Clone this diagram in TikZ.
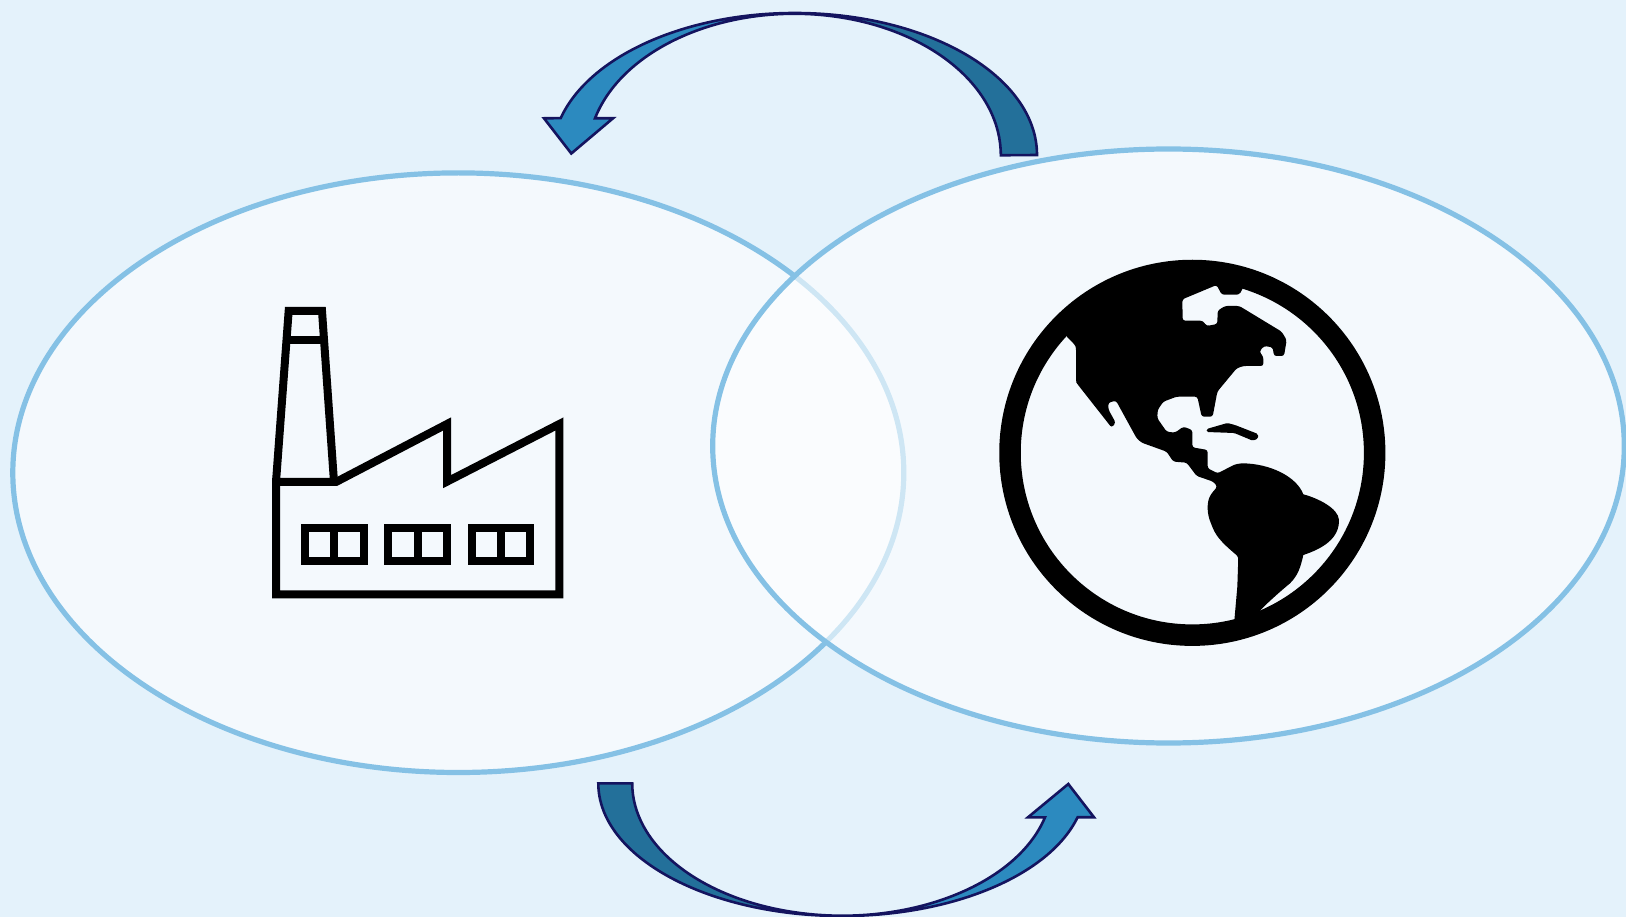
\documentclass[tikz,border=0pt]{standalone}
\definecolor{bgblue}{HTML}{E4F2FB}
\definecolor{ringblue}{HTML}{85C1E5}
\definecolor{arrowlight}{HTML}{2C8ABF}
\definecolor{arrowdark}{HTML}{23709A}
\definecolor{arrownavy}{HTML}{14145F}
\tikzset{
  vennoval/.style={draw=ringblue,line width=5.2pt,fill=white,fill opacity=.6},
  arrowline/.style={draw=arrownavy,line width=2.6pt,miter limit=10},
  iconline/.style={draw=black,line width=8pt,miter limit=10},
  iconfill/.style={fill=black,rounded corners=2.5pt},
  zoomed/.style={x=0.33333pt,y=-0.33333pt}
}
\newcommand{\toparrowpath}{(1037,155) arc[start angle=0,end angle=-164.95,x radius=242.3,y radius=142]
  -- (544,118.3) -- (571.3,153.5) -- (613,118.3) -- (595,118.3)
  arc[start angle=-164.85,end angle=0,x radius=206.5,y radius=141.5] -- cycle}
\newcommand{\botarrowpath}{(598.3,783.3) arc[start angle=180,end angle=14.8,x radius=243.7,y radius=132.7]
  -- (1094,817.3) -- (1068.3,784) -- (1028,817.3) -- (1045,817.3)
  arc[start angle=14.85,end angle=180,x radius=209.9,y radius=132.3] -- cycle}
\begin{document}
\begin{tikzpicture}[x=1pt,y=-1pt]
\useasboundingbox (0,0) rectangle (1626,917);
\fill[bgblue] (0,0) rectangle (1626,917);
% ovals
\path[vennoval] (458.3,472.7) ellipse [x radius=445.5,y radius=299.8];
\path[vennoval] (1168.5,446) ellipse [x radius=455.8,y radius=297];
% top arrow
\fill[arrowlight] \toparrowpath;
\begin{scope}
  \clip (795,0) rectangle (1100,200);
  \fill[arrowdark] \toparrowpath;
\end{scope}
\path[arrowline] \toparrowpath;
% bottom arrow
\fill[arrowlight] \botarrowpath;
\begin{scope}
  \clip (500,760) rectangle (842,917);
  \fill[arrowdark] \botarrowpath;
\end{scope}
\path[arrowline] \botarrowpath;
% factory
\begin{scope}[shift={(260,295)},zoomed]
  \path[iconline] (48,898) -- (898,898) -- (898,387) -- (561,560) -- (561,387) -- (228,561) -- (48,561) -- cycle;
  \path[iconline] (48,561) -- (86,48) -- (186,48) -- (222,561);
  \path[iconline] (80,135) -- (192,135);
  \path[iconline] (135,698) rectangle (311,798);
  \path[iconline] (223,698) -- (223,798);
  \path[iconline] (385,698) rectangle (561,798);
  \path[iconline] (473,698) -- (473,798);
  \path[iconline] (635,698) rectangle (811,798);
  \path[iconline] (723,698) -- (723,798);
\end{scope}
% globe
\begin{scope}[shift={(990,250)},zoomed]
  \draw[black,line width=21.5pt] (607,608.5) circle [radius=547];
  \path[iconfill] (226,256) -- (255,285) -- (258,292) -- (258,395) -- (262,402) -- (365,533)
    -- (377,518) -- (355,478) -- (355,458) -- (378,452) -- (440,565) -- (455,578) -- (530,605)
    -- (550,635) -- (590,638) -- (620,678) -- (670,695) -- (682,710) -- (665,730)
    .. controls (650,755) and (650,790) .. (665,825)
    .. controls (680,865) and (710,890) .. (745,920)
    [sharp corners] -- (742,1010) -- (733,1112) -- (770,1125) -- (800,1092)
    .. controls (830,1060) and (870,1025) .. (900,1000)
    .. controls (925,975) and (932,950) .. (940,915)
    .. controls (1000,895) and (1048,865) .. (1047,810)
    .. controls (1045,775) and (985,745) .. (940,733)
    .. controls (920,680) and (840,640) .. (755,640)
    [rounded corners=2.5pt] -- (735,643) -- (683,670) -- (653,655) -- (653,600) -- (607,592) -- (607,540) -- (580,530)
    -- (555,548) -- (530,545) -- (502,505) -- (503,480) -- (520,455) -- (560,440) -- (622,440)
    -- (635,500) -- (668,500) -- (682,425) -- (740,355) -- (760,348) -- (820,348)
    -- (820,320) -- (808,305) -- (822,288) -- (848,292) -- (852,318) -- (882,318)
    -- (890,270) -- (875,245) -- (748,168) -- (705,168) -- (683,182) -- (682,222)
    -- (650,228) -- (638,212) -- (578,212) -- (577,148) -- (680,105) -- (695,134)
    -- (748,134) -- (760,112) -- (760,80) -- (607,60) -- (400,100) -- (280,170) -- cycle;
  \fill[black,rounded corners=1.5pt] (650,546) -- (650,537) -- (712,519) -- (735,525) -- (804,552)
    -- (804,566) -- (788,572) -- (733,549) -- cycle;
\end{scope}
\end{tikzpicture}
\end{document}
